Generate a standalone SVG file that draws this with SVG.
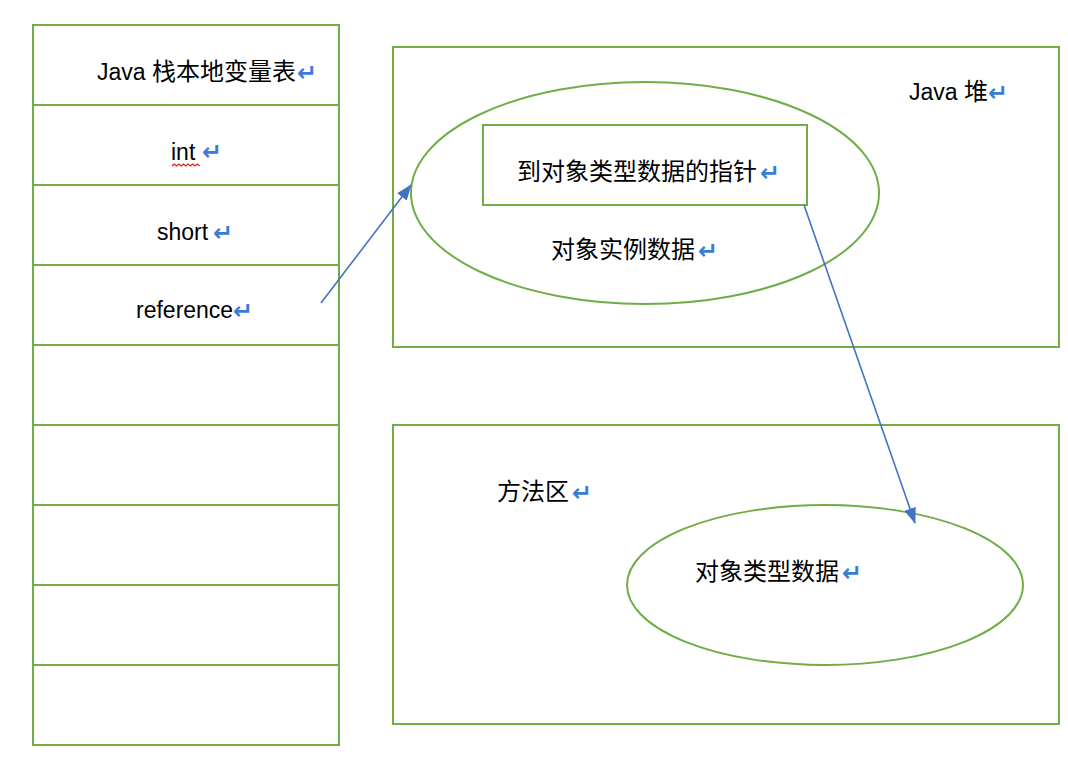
<svg xmlns="http://www.w3.org/2000/svg" width="1068" height="766" viewBox="0 0 1068 766">
<style>
.box{fill:none;stroke:#70ad47;stroke-width:2}
.t{font-family:"Liberation Sans","Noto Sans CJK SC",sans-serif;font-size:23px;fill:#000}
.k{font-size:24px}
.r{font-family:"DejaVu Sans",sans-serif;font-size:24px;font-weight:bold;fill:#3a7bd5}
.c{stroke:#4472c4;stroke-width:1.6;fill:none}
</style>
<defs>
<marker id="ah" viewBox="0 0 16 12" refX="15" refY="6" markerWidth="16" markerHeight="12" orient="auto" markerUnits="userSpaceOnUse">
<path d="M0,0 L16,6 L0,12 z" fill="#4472c4"/>
</marker>
</defs>
<rect width="1068" height="766" fill="#fff"/>
<g id="stack">
<rect class="box" x="33" y="25" width="306" height="720"/>
<path class="box" d="M33,105H339M33,185H339M33,265H339M33,345H339M33,425H339M33,505H339M33,585H339M33,665H339"/>
<text class="t" x="97" y="80">Java <tspan class="k">栈本地变量表</tspan></text><text class="r" x="297" y="81">↵</text>
<text class="t" x="171" y="160">int</text><text class="r" x="202" y="160">↵</text>
<path d="M172,166 l2.3,-2 l2.3,2 l2.3,-2 l2.3,2 l2.3,-2 l2.3,2 l2.3,-2 l2.3,2 l2.3,-2 l2.3,2 l2.3,-2 l2.3,2" fill="none" stroke="#e02020" stroke-width="1.3"/>
<text class="t" x="157" y="240">short</text><text class="r" x="213" y="241">↵</text>
<text class="t" x="136" y="318">reference</text><text class="r" x="233" y="319">↵</text>
</g>
<g id="heap">
<rect class="box" x="393" y="47" width="666" height="300"/>
<text class="t" x="909" y="100">Java <tspan class="k">堆</tspan></text><text class="r" x="988" y="101">↵</text>
</g>
<g id="instance">
<ellipse class="box" cx="645" cy="193" rx="234" ry="111"/>
<text class="t k" x="551" y="258">对象实例数据</text><text class="r" x="698" y="259">↵</text>
</g>
<g id="pointer">
<rect class="box" x="483" y="125" width="324" height="80"/>
<text class="t k" x="517" y="180">到对象类型数据的指针</text><text class="r" x="760" y="181">↵</text>
</g>
<g id="method">
<rect class="box" x="393" y="425" width="666" height="299"/>
<text class="t k" x="497" y="500">方法区</text><text class="r" x="572" y="501">↵</text>
</g>
<g id="typedata">
<ellipse class="box" cx="825" cy="585" rx="198" ry="80"/>
<text class="t k" x="695" y="580">对象类型数据</text><text class="r" x="842" y="581">↵</text>
</g>
<g id="connectors">
<line class="c" x1="321" y1="303" x2="411" y2="185" marker-end="url(#ah)"/>
<line class="c" x1="804" y1="205" x2="915" y2="523" marker-end="url(#ah)"/>
</g>
</svg>
